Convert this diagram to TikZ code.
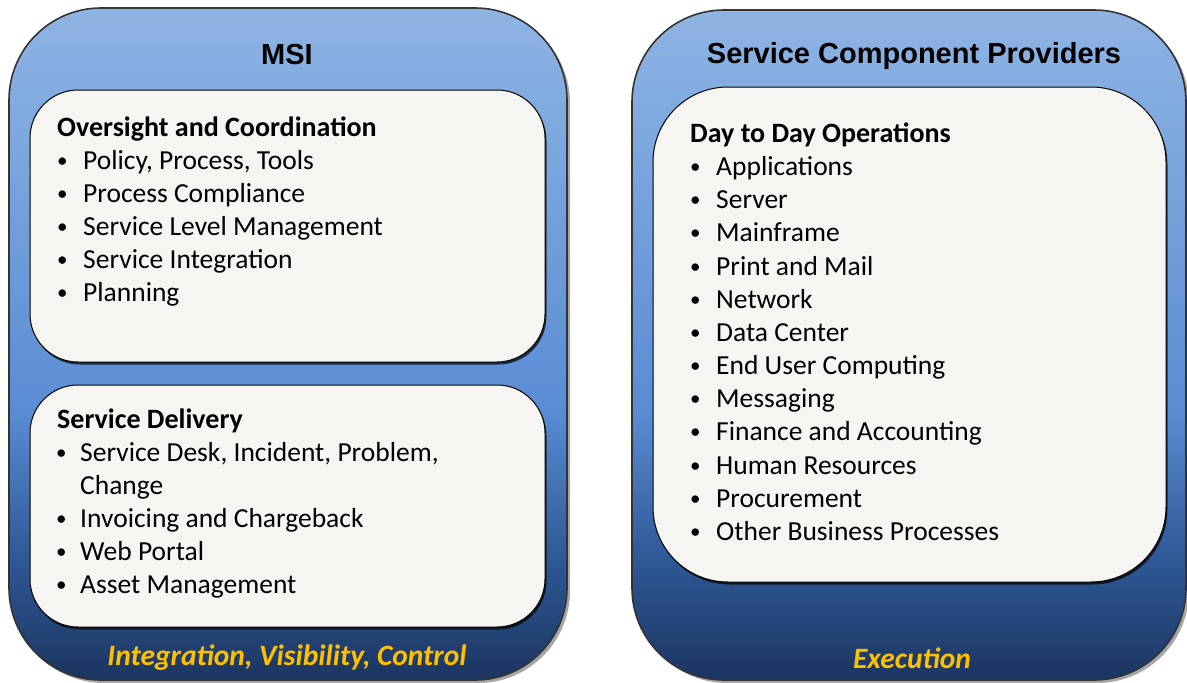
\documentclass[tikz,border=0pt]{standalone}
\usepackage{fontspec}
\setmainfont{Carlito}
\newfontfamily\titelfont{Liberation Sans}
\usetikzlibrary{shadows}

\definecolor{blauhell}{HTML}{8EB4E3}
\definecolor{blaumitte}{HTML}{5A8CD4}
\definecolor{blautief}{HTML}{2E5896}
\definecolor{blaudunkel}{HTML}{1C3560}
\definecolor{papier}{HTML}{F6F5F1}
\definecolor{gold}{HTML}{FFC000}

% Verlauf der grossen Rahmen (25bp = unten, 75bp = oben)
\pgfdeclareverticalshading{rahmenblau}{100bp}{%
    color(0bp)=(blaudunkel); color(25bp)=(blaudunkel);
    color(34bp)=(blautief); color(45bp)=(blaumitte);
    color(75bp)=(blauhell); color(100bp)=(blauhell)}

% kleiner Aufzaehlungspunkt in fester Breite
\newcommand{\pkt}[1]{\makebox[#1][l]{\raisebox{2pt}{\fontsize{21}{21}\selectfont\textbullet}}}

\begin{document}
\begin{tikzpicture}[x=1pt, y=-1pt,
        font=\fontsize{27.5}{33}\selectfont,
        rahmen/.style={draw=black!80, line width=1.6pt, rounded corners=92pt,
            shade, shading=rahmenblau, inner sep=0pt, outer sep=0pt,
            drop shadow={shadow xshift=3pt, shadow yshift=-3pt, opacity=.35, fill=black}},
        kasten/.style={draw=black, line width=1pt, fill=papier, inner sep=0pt, outer sep=0pt,
            drop shadow={shadow xshift=1.5pt, shadow yshift=-2.5pt, opacity=.7, fill=black}},
        titel/.style={font=\titelfont\bfseries\fontsize{29}{33}\selectfont},
        kopf/.style={anchor=base west, inner sep=0pt, font=\bfseries\fontsize{28}{33}\selectfont},
        eintrag/.style={anchor=base west, inner sep=0pt},
        motto/.style={text=gold, font=\bfseries\itshape\fontsize{29.5}{33}\selectfont}
        ]
    \useasboundingbox (0,0) rectangle (1187,683);

    % Rahmen
    \node[rahmen, minimum width=558pt, minimum height=672pt] (msi) at (288,344) {};
    \node[rahmen, minimum width=554pt, minimum height=670pt] (providers) at (909,345) {};

    % Kaesten
    \node[kasten, rounded corners=48pt, minimum width=515pt, minimum height=272pt] (oversight) at (287.5,226) {};
    \node[kasten, rounded corners=48pt, minimum width=515pt, minimum height=242pt] (delivery) at (287.5,506) {};
    \node[kasten, rounded corners=75pt, minimum width=513pt, minimum height=495pt] (operations) at (909.5,334.5) {};

    % Titel und Motto
    \node[titel] (msi-titel) at (287,55) {MSI};
    \node[titel] (providers-titel) at (914,56) {Service Component Providers};
    \node[motto] (msi-motto) at (287,658) {Integration, Visibility, Control};
    \node[motto] (providers-motto) at (912,658) {Execution};

    % Oversight and Coordination
    \node[kopf] (oversight-0) at (57,136) {Oversight and Coordination};
    \foreach \t [count=\i] in {{Policy, Process, Tools}, Process Compliance,
            Service Level Management, Service Integration, Planning}
        \node[eintrag] (oversight-\i) at (57,136+33*\i) {\pkt{26pt}\t};

    % Service Delivery
    \node[kopf] (delivery-0) at (57,428) {Service Delivery};
    \node[eintrag] (delivery-1) at (56,461) {\pkt{24pt}Service Desk, Incident, Problem,};
    \node[eintrag] (delivery-1b) at (80,494.5) {Change};
    \foreach \t [count=\i from 2] in {Invoicing and Chargeback, Web Portal, Asset Management}
        \node[eintrag] (delivery-\i) at (56,461+33*\i) {\pkt{24pt}\t};

    % Day to Day Operations
    \node[kopf] (operations-0) at (690,142.5) {Day to Day Operations};
    \foreach \t [count=\i] in {Applications, Server, Mainframe, Print and Mail, Network,
            Data Center, End User Computing, Messaging, Finance and Accounting,
            Human Resources, Procurement, Other Business Processes}
        \node[eintrag] (operations-\i) at (690,142.5+33.15*\i) {\pkt{26pt}\t};
\end{tikzpicture}
\end{document}
